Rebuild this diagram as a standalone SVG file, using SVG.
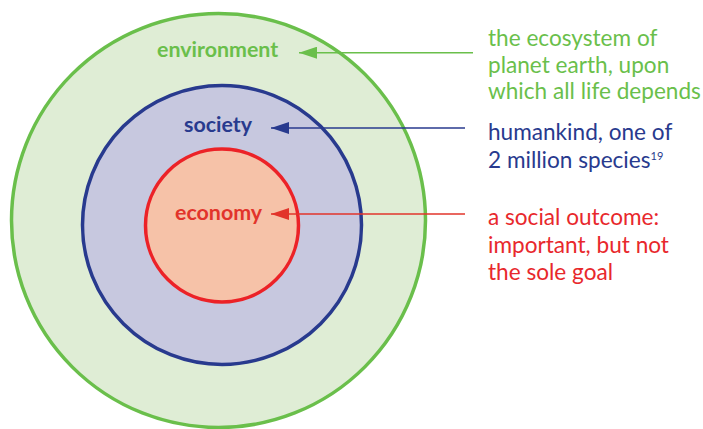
<svg xmlns="http://www.w3.org/2000/svg" width="703" height="429" viewBox="0 0 703 429">
<style>
.lbl{font-family:Lato,"Noto Sans",sans-serif;font-weight:bold;font-size:21.4px}
.desc{font-family:Lato,"Noto Sans",sans-serif;font-size:22.6px}
.g{fill:#6abf4b}.b{fill:#283a8e}.r{fill:#e8282c}
</style>
<defs>
<marker id="ag" markerWidth="18" markerHeight="12" refX="18" refY="6" orient="auto" markerUnits="userSpaceOnUse"><path d="M0,0 L18,6 L0,12 Z" fill="#6abf4b"/></marker>
<marker id="ab" markerWidth="18" markerHeight="12" refX="18" refY="6" orient="auto" markerUnits="userSpaceOnUse"><path d="M0,0 L18,6 L0,12 Z" fill="#283a8e"/></marker>
<marker id="ar" markerWidth="18" markerHeight="12" refX="18" refY="6" orient="auto" markerUnits="userSpaceOnUse"><path d="M0,0 L18,6 L0,12 Z" fill="#e2342b"/></marker>
</defs>
<rect width="703" height="429" fill="#ffffff"/>
<g id="environment">
<circle cx="218.5" cy="220.5" r="207" fill="#dfedd5" stroke="#6abf4b" stroke-width="3.5"/>
<text class="lbl g" x="157" y="57">environment</text>
</g>
<g id="society">
<circle cx="222" cy="225" r="139.5" fill="#c7c8df" stroke="#283a8e" stroke-width="3.5"/>
<text class="lbl b" x="184" y="132">society</text>
</g>
<g id="economy">
<circle cx="222" cy="225.5" r="76.5" fill="#f6c2a8" stroke="#ec2227" stroke-width="3.5"/>
<text class="lbl" fill="#e2342b" x="175" y="220">economy</text>
</g>
<g id="connectors">
<line x1="473" y1="52.7" x2="299" y2="52.7" stroke="#6abf4b" stroke-width="1.5" marker-end="url(#ag)"/>
<line x1="465" y1="128" x2="271" y2="128" stroke="#283a8e" stroke-width="1.5" marker-end="url(#ab)"/>
<line x1="465" y1="214" x2="271" y2="214" stroke="#e2342b" stroke-width="1.5" marker-end="url(#ar)"/>
</g>
<g id="desc-environment">
<text class="desc g" x="488" y="46">the ecosystem of</text>
<text class="desc g" x="488" y="73">planet earth, upon</text>
<text class="desc g" x="488" y="99">which all life depends</text>
</g>
<g id="desc-society">
<text class="desc b" x="488" y="140">humankind, one of</text>
<text class="desc b" x="488" y="168">2 million species<tspan font-size="11" dy="-8">19</tspan></text>
</g>
<g id="desc-economy">
<text class="desc r" x="488" y="225">a social outcome:</text>
<text class="desc r" x="488" y="253">important, but not</text>
<text class="desc r" x="488" y="280">the sole goal</text>
</g>
</svg>
